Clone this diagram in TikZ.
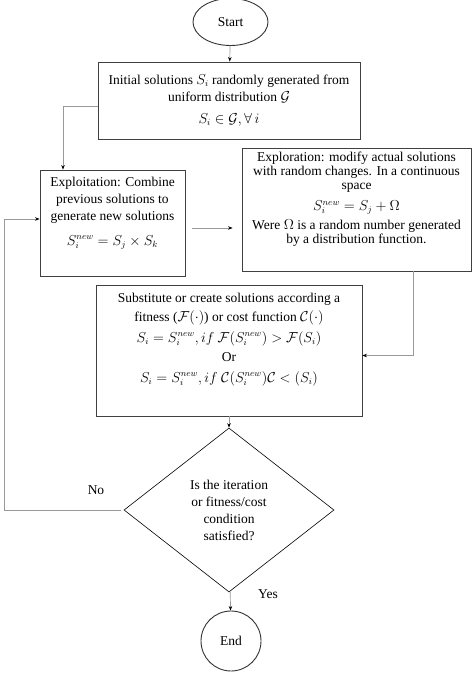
\documentclass[tikz,border=0pt]{standalone}
\usepackage{fontspec}
\setmainfont{Liberation Serif}
\usetikzlibrary{shapes.geometric,arrows.meta,positioning}

\tikzset{
  box/.style = {draw=black!75, line width=0.9pt, align=center, inner sep=3pt,
                font=\fontsize{13.5}{17}\selectfont},
  term/.style = {draw=black!80, line width=0.9pt, font=\fontsize{13.5}{15}\selectfont},
  dec/.style = {draw, diamond, line width=0.6pt, align=center, inner sep=0pt,
                minimum width=210pt, minimum height=164pt,
                font=\fontsize{13.5}{17}\selectfont},
  link/.style = {draw=black!40, line width=0.7pt,
                 -{Stealth[black, length=4.5pt, width=3.5pt]}},
  note/.style = {font=\fontsize{13.5}{15}\selectfont}
}

\begin{document}
\begin{tikzpicture}[x=1pt, y=-1pt]
\useasboundingbox (0,0) rectangle (474,673);

\node[term, ellipse, minimum width=75pt, minimum height=47pt] (start) at (230.5,22) {Start};

\node[box, minimum width=262pt, minimum height=77pt] (init) at (229,100.5)
  {Initial solutions $S_i$ randomly generated from\\
   uniform distribution $\mathcal{G}$\\[5pt]
   $S_i \in \mathcal{G}, \forall\, i$};

\node[box, minimum width=145pt, minimum height=106pt, text depth=24pt] (exploit) at (112.5,223)
  {Exploitation: Combine\\ previous solutions to\\ generate new solutions\\[8pt]
   $S_i^{new} = S_j \times S_k$};

\node[box, minimum width=229pt, minimum height=123pt, text depth=24pt,
      font=\fontsize{13.5}{14}\selectfont] (explore) at (356.5,209.5)
  {Exploration: modify actual solutions\\ with random changes. In a continuous\\ space\\[7pt]
   $S_i^{new} = S_j + \Omega$\\[5pt]
   Were $\Omega$ is a random number generated\\ by a distribution function.};

\node[box, minimum width=266pt, minimum height=131pt, text depth=26pt,
      font=\fontsize{13.5}{19}\selectfont] (subst) at (229,350.5)
  {Substitute or create solutions according a\\
   fitness ($\mathcal{F}(\cdot)$) or cost function $\mathcal{C}(\cdot)$\\[2pt]
   $S_i = S_i^{new}, if\ \mathcal{F}(S_i^{new}) > \mathcal{F}(S_i)$\\
   Or\\[2pt]
   $S_i = S_i^{new}, if\ \mathcal{C}(S_i^{new})\mathcal{C} < (S_i)$};

\node[dec] (check) at (229,510) {Is the iteration\\ or fitness/cost\\ condition\\ satisfied?};

\node[term, circle, minimum size=60pt] (end) at (231,641) {End};

\node[note] (no) at (96,490) {No};
\node[note] (yes) at (268,594) {Yes};

\coordinate (back) at (4,0);

\draw[link] (start) -- (init);
\draw[link] ([yshift=-6pt]init.west) -| ([xshift=-49.5pt]exploit.north);
\draw[link] ([xshift=7pt,yshift=-5pt]exploit.east) -- ([xshift=-9pt,yshift=-18.5pt]explore.west);
\draw[link] ([xshift=56.5pt]explore.south) |- ([yshift=-5pt]subst.east);
\draw[link] (subst) -- (check);
\draw[link] (check) -- (end);
\draw[link] ([xshift=-3pt]check.west) -- (check.west -| back) |- ([yshift=4pt]exploit.west);

\end{tikzpicture}
\end{document}
